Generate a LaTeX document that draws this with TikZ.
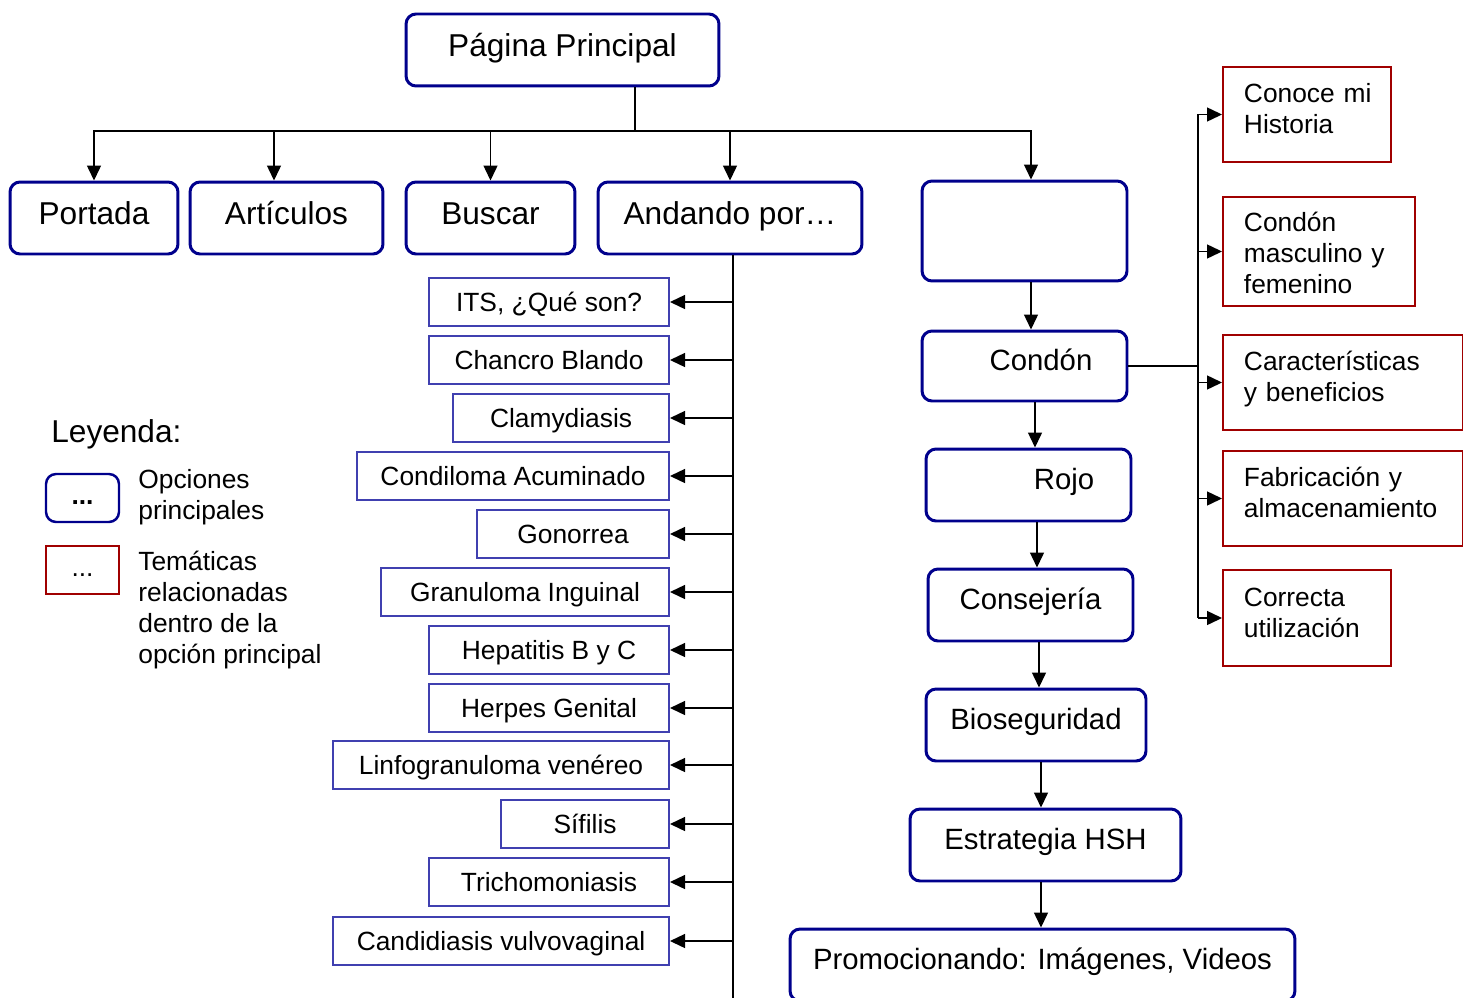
\documentclass[tikz,border=0pt]{standalone}
\usepackage{fontspec}
\setmainfont{Liberation Sans}
\usetikzlibrary{arrows.meta}
\definecolor{azulosc}{RGB}{0,0,140}
\definecolor{azulsub}{RGB}{64,64,176}
\definecolor{rojosc}{RGB}{160,0,0}

\begin{document}
\begin{tikzpicture}[x=0.02cm, y=-0.02cm,
  opcion/.style={draw=azulosc, line width=1.7pt, rounded corners=0.2cm, minimum height=1.44cm, text height=0.72em, text depth=0.02em, font=\fontsize{18}{21}\selectfont},
  columna/.style={opcion, text depth=0.25em, font=\fontsize{16.7}{20}\selectfont},
  tema/.style={draw=azulsub, line width=1.1pt, anchor=east, minimum height=0.96cm, text height=1.1em, text depth=0pt, font=\fontsize{15}{18}\selectfont},
  relac/.style={draw=rojosc, line width=1.1pt, anchor=west, align=left, inner xsep=0.42cm, text height=0.16cm, font=\fontsize{15}{17.6}\selectfont},
  texto/.style={anchor=west, inner sep=0pt, align=left, font=\fontsize{15}{17.6}\selectfont},
  flecha/.style={-{Triangle[length=0.3cm,width=0.28cm]}},
  linea/.style={line width=0.8pt}]
\useasboundingbox (0,0) rectangle (1463,997);

\node[opcion, minimum width=6.26cm] (pagina) at (562.5,50) {Página Principal};
\node[opcion, minimum width=3.36cm] (portada) at (94,218) {Portada};
\node[opcion, minimum width=3.86cm] (articulos) at (286.5,218) {Artículos};
\node[opcion, minimum width=3.38cm] (buscar) at (490.5,218) {Buscar};
\node[opcion, minimum width=5.28cm] (andando) at (730,218) {Andando por…};
\node[columna, minimum width=4.10cm, minimum height=2cm] (vacio) at (1024.5,231) {};
\node[columna, minimum width=4.10cm, minimum height=1.40cm] (condon) at (1024.5,366) {\hspace*{0.66cm}Condón};
\node[columna, minimum width=4.10cm] (rojo) at (1028.5,485) {\hspace*{1.42cm}Rojo};
\node[columna, minimum width=4.10cm] (consejeria) at (1030.5,605) {Consejería};
\node[columna, minimum width=4.40cm] (bioseg) at (1036,725) {Bioseguridad};
\node[columna, minimum width=5.42cm] (hsh) at (1045.5,845) {Estrategia HSH};
\node[columna, minimum width=10.10cm] (promo) at (1042.5,965) {Promocionando: Imágenes, Videos};

\node[tema, minimum width=4.80cm] (its) at (670,302) {ITS, ¿Qué son?};
\node[tema, minimum width=4.80cm] (chancro) at (670,360) {Chancro Blando};
\node[tema, minimum width=4.32cm] (clamydiasis) at (670,418) {Clamydiasis};
\node[tema, minimum width=6.24cm] (condiloma) at (670,476) {Condiloma Acuminado};
\node[tema, minimum width=3.84cm] (gonorrea) at (670,534) {Gonorrea};
\node[tema, minimum width=5.76cm] (granuloma) at (670,592) {Granuloma Inguinal};
\node[tema, minimum width=4.80cm] (hepatitis) at (670,650) {Hepatitis B y C};
\node[tema, minimum width=4.80cm] (herpes) at (670,708) {Herpes Genital};
\node[tema, minimum width=6.72cm] (linfo) at (670,765) {Linfogranuloma venéreo};
\node[tema, minimum width=3.36cm] (sifilis) at (670,824) {Sífilis};
\node[tema, minimum width=4.80cm] (tricho) at (670,882) {Trichomoniasis};
\node[tema, minimum width=6.72cm] (candidiasis) at (670,941) {Candidiasis vulvovaginal};

\node[relac, text width=2.52cm, minimum height=1.90cm] (conoce) at (1222,114.5) {Conoce~mi\\Historia};
\node[relac, text width=3.00cm, minimum height=2.18cm, text height=0.46cm] (masc) at (1222,251.5) {Condón\\masculino~y\\femenino};
\node[relac, text width=3.96cm, minimum height=1.90cm, text height=0.26cm] (caract) at (1222,382.5) {Características\\y~beneficios};
\node[relac, text width=3.96cm, minimum height=1.90cm] (fabr) at (1222,498.5) {Fabricación~y\\almacenamiento};
\node[relac, text width=2.52cm, minimum height=1.92cm] (correcta) at (1222,618) {Correcta\\utilización};

\node[texto, font=\fontsize{18}{21}\selectfont] (leyenda) at (51,434) {Leyenda:};
\node[opcion, minimum width=1.46cm, minimum height=0.96cm, line width=1.4pt, text height=0.9em, text depth=0.2em, font=\fontsize{15}{17.6}\selectfont] (leyA) at (82.5,498) {\textbf{...}};
\node[draw=rojosc, line width=1.1pt, minimum width=1.46cm, minimum height=0.96cm, text height=0.9em, text depth=0.2em, font=\fontsize{15}{17.6}\selectfont] (leyB) at (82.5,570) {...};
\node[texto] (leyAtxt) at (138,497.5) {Opciones\\principales};
\node[texto] (leyBtxt) at (138,610) {Temáticas\\relacionadas\\dentro de la\\opción principal};

\coordinate (rama) at (635,131);
\draw[linea] (pagina.south -| rama) -- (rama);
\draw[linea, flecha] (rama) -| (portada.north);
\draw[linea, flecha] (rama) -| (articulos.north -| 274,0);
\draw[linea, flecha] (rama) -| (buscar.north);
\draw[linea, flecha] (rama) -| (andando.north);
\draw[linea, flecha] (rama) -| (vacio.north -| 1031,0);

\coordinate (finA) at (733,1000);
\draw[linea] (andando.south -| finA) -- (finA);
\foreach \t in {its,chancro,clamydiasis,condiloma,gonorrea,granuloma,hepatitis,herpes,linfo,sifilis,tricho,candidiasis}
  \draw[linea, flecha] (\t.east -| finA) -- (\t.east);

\draw[linea, flecha] (vacio.south -| 1031,0) -- (condon.north -| 1031,0);
\draw[linea, flecha] (condon.south -| 1035,0) -- (rojo.north -| 1035,0);
\draw[linea, flecha] (rojo.south -| 1037,0) -- (consejeria.north -| 1037,0);
\draw[linea, flecha] (consejeria.south -| 1039,0) -- (bioseg.north -| 1039,0);
\draw[linea, flecha] (bioseg.south -| 1041,0) -- (hsh.north -| 1041,0);
\draw[linea, flecha] (hsh.south -| 1041,0) -- (promo.north -| 1041,0);

\coordinate (bus) at (1198,364);
\draw[linea] (condon.east) -- (condon.east -| bus);
\draw[linea] (conoce.west -| bus) -- (correcta.west -| bus);
\foreach \r in {conoce,masc,caract,fabr,correcta}
  \draw[linea, flecha] (\r.west -| bus) -- (\r.west);
\end{tikzpicture}
\end{document}
